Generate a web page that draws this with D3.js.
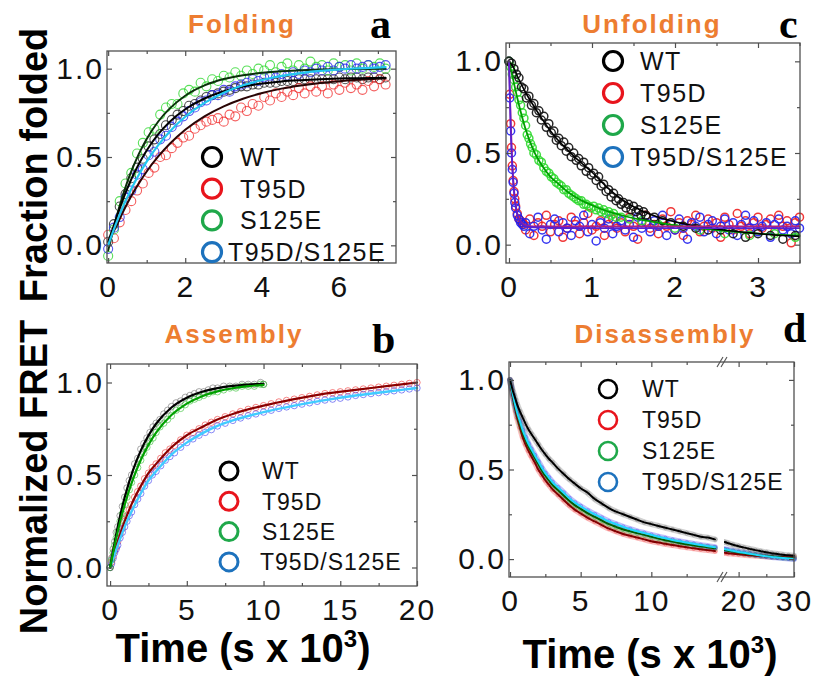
<!DOCTYPE html>
<html><head><meta charset="utf-8">
<script src="https://cdn.jsdelivr.net/npm/d3@7"></script>
<style>body{margin:0;background:#fff}svg{display:block}</style>
</head><body>
<script>
// ---------------- DATA ----------------
const seriesNames = ['WT','T95D','S125E','T95D/S125E'];

// Panel a: Folding (time, s x 10^3)
const foldTime = [0,0.15,0.3,0.45,0.6,0.75,0.9,1.05,1.2,1.35,1.5,1.65,1.8,1.95,2.1,2.25,2.4,2.55,2.7,2.85,3.0,3.15,3.3,3.45,3.6,3.75,3.9,4.05,4.2,4.35,4.5,4.65,4.8,4.95,5.1,5.25,5.4,5.55,5.7,5.85,6.0,6.15,6.3,6.45,6.6,6.75,6.9,7.05,7.2];
const foldWT = [0.02,0.12,0.22,0.29,0.38,0.44,0.49,0.56,0.60,0.63,0.68,0.71,0.74,0.76,0.79,0.80,0.82,0.84,0.85,0.86,0.87,0.88,0.89,0.90,0.90,0.91,0.91,0.92,0.92,0.92,0.93,0.93,0.93,0.94,0.94,0.94,0.94,0.94,0.94,0.94,0.95,0.94,0.95,0.95,0.94,0.95,0.95,0.94,0.95];
const foldT95D = [0.06,0.04,0.13,0.20,0.25,0.31,0.35,0.41,0.44,0.50,0.51,0.55,0.58,0.61,0.62,0.66,0.68,0.70,0.71,0.72,0.70,0.74,0.73,0.78,0.76,0.80,0.79,0.84,0.82,0.86,0.84,0.87,0.85,0.89,0.86,0.90,0.87,0.90,0.86,0.91,0.88,0.92,0.89,0.91,0.88,0.93,0.90,0.94,0.91];
const foldS125E = [-0.06,0.09,0.25,0.35,0.41,0.52,0.58,0.64,0.66,0.74,0.78,0.80,0.80,0.86,0.88,0.87,0.92,0.90,0.94,0.93,0.96,0.95,0.98,0.96,0.99,0.97,1.00,0.99,1.02,0.98,1.01,1.03,0.99,1.02,1.00,1.04,1.01,1.02,0.99,1.03,1.01,1.02,0.99,1.03,1.00,1.02,1.01,1.03,1.00];
const foldBoth = [-0.02,0.10,0.16,0.27,0.31,0.40,0.43,0.51,0.53,0.60,0.62,0.67,0.70,0.73,0.76,0.78,0.81,0.82,0.85,0.85,0.88,0.87,0.90,0.91,0.92,0.94,0.93,0.95,0.96,0.95,0.97,0.96,0.98,0.97,0.99,0.98,1.00,0.99,1.01,0.99,1.01,1.00,1.02,1.00,1.01,1.02,1.00,1.01,1.02];
const foldFitTime = [0,0.2,0.4,0.6,0.8,1.0,1.3,1.6,2.0,2.5,3.0,3.5,4.0,4.5,5.0,5.5,6.0,6.5,7.2];
const foldFitWT = [0.02,0.146,0.269,0.374,0.462,0.537,0.629,0.700,0.770,0.831,0.872,0.899,0.916,0.928,0.935,0.940,0.944,0.946,0.948];
const foldFitT95D = [0.02,0.104,0.196,0.279,0.352,0.418,0.503,0.575,0.654,0.730,0.787,0.830,0.862,0.887,0.905,0.919,0.929,0.937,0.944];
const foldFitS125E = [-0.03,0.148,0.296,0.418,0.519,0.602,0.701,0.775,0.847,0.905,0.941,0.963,0.977,0.986,0.991,0.995,0.997,0.998,0.999];
const foldFitBoth = [0,0.120,0.226,0.319,0.401,0.474,0.567,0.645,0.728,0.806,0.864,0.906,0.936,0.959,0.975,0.987,0.996,1.002,1.009];

// Panel b: Assembly
const asmTimeFast = [0,0.1,0.2,0.3,0.4,0.5,0.65,0.8,0.95,1.1,1.25,1.4,1.6,1.8,2.0,2.2,2.4,2.6,2.8,3.0,3.25,3.5,3.75,4.0,4.3,4.6,4.9,5.2,5.5,5.8,6.1,6.4,6.7,7.0,7.4,7.8,8.2,8.6,9.0,9.4,9.8,10.0];
const asmWT = [0.00,0.05,0.10,0.14,0.19,0.22,0.28,0.33,0.38,0.43,0.47,0.50,0.56,0.59,0.64,0.67,0.70,0.73,0.76,0.78,0.80,0.83,0.85,0.87,0.89,0.90,0.92,0.93,0.94,0.95,0.95,0.96,0.97,0.97,0.98,0.98,0.98,0.99,0.99,0.99,1.00,0.99];
const asmS125E = [0.00,0.04,0.08,0.12,0.16,0.19,0.25,0.29,0.34,0.38,0.42,0.46,0.50,0.54,0.58,0.62,0.65,0.68,0.70,0.73,0.76,0.78,0.80,0.82,0.85,0.86,0.88,0.90,0.91,0.92,0.93,0.94,0.95,0.95,0.96,0.97,0.97,0.98,0.98,0.98,0.99,0.99];
const asmTimeSlow = [0,0.1,0.2,0.3,0.4,0.5,0.65,0.8,0.95,1.1,1.25,1.4,1.6,1.8,2.0,2.25,2.5,2.75,3.0,3.3,3.6,3.9,4.2,4.6,5.0,5.4,5.8,6.2,6.6,7.0,7.5,8.0,8.5,9.0,9.5,10,10.5,11,11.5,12,12.5,13,13.5,14,14.5,15,15.5,16,16.5,17,17.5,18,18.5,19,19.5,20];
const asmT95D = [0.00,0.03,0.06,0.09,0.11,0.14,0.18,0.21,0.25,0.28,0.31,0.34,0.38,0.41,0.44,0.48,0.51,0.54,0.56,0.59,0.62,0.64,0.66,0.69,0.715,0.73,0.75,0.77,0.785,0.80,0.815,0.83,0.843,0.855,0.865,0.875,0.885,0.895,0.903,0.91,0.918,0.925,0.933,0.94,0.945,0.95,0.955,0.96,0.965,0.97,0.975,0.98,0.985,0.99,0.995,1.0];
const asmBoth = [0.00,0.02,0.05,0.08,0.10,0.12,0.16,0.19,0.22,0.25,0.28,0.30,0.34,0.37,0.40,0.44,0.47,0.50,0.52,0.55,0.58,0.60,0.62,0.65,0.675,0.695,0.715,0.73,0.745,0.765,0.78,0.795,0.808,0.82,0.83,0.84,0.85,0.86,0.868,0.875,0.883,0.89,0.898,0.905,0.91,0.915,0.922,0.93,0.935,0.94,0.945,0.95,0.955,0.96,0.965,0.97];
const asmFitTimeFast = [0,0.5,1,1.5,2,2.5,3,4,5,6,7,8,9,10];
const asmFitWT = [0,0.221,0.393,0.528,0.632,0.713,0.777,0.865,0.918,0.950,0.970,0.982,0.989,0.993];
const asmFitS125E = [0,0.195,0.353,0.479,0.581,0.663,0.729,0.824,0.886,0.926,0.952,0.969,0.980,0.987];
const asmFitTimeSlow = [0,0.5,1,1.5,2,2.5,3,4,5,6,7,8,10,12,14,16,18,20];
const asmFitT95D = [0,0.14,0.26,0.36,0.44,0.51,0.56,0.65,0.715,0.76,0.80,0.83,0.875,0.91,0.94,0.96,0.98,1.0];
const asmFitBoth = [0,0.12,0.23,0.32,0.40,0.47,0.52,0.61,0.675,0.725,0.765,0.795,0.84,0.875,0.905,0.93,0.95,0.97];

// Panel c: Unfolding
const unfTimeWT = [0,0.03,0.06,0.09,0.12,0.15,0.18,0.21,0.24,0.27,0.30,0.33,0.36,0.39,0.42,0.45,0.48,0.51,0.54,0.57,0.60,0.63,0.66,0.69,0.72,0.75,0.78,0.81,0.84,0.87,0.90,0.93,0.96,0.99,1.02,1.05,1.08,1.11,1.14,1.17,1.20,1.23,1.26,1.29,1.32,1.35,1.38,1.41,1.44,1.47,1.50,1.53,1.56,1.59,1.62,1.65,1.75,1.85,1.95,2.1,2.25,2.4,2.55,2.7,2.85,3.0,3.15,3.3,3.45];
const unfWT = [1.00,0.99,0.96,0.93,0.91,0.86,0.85,0.80,0.81,0.76,0.77,0.72,0.73,0.68,0.70,0.64,0.66,0.61,0.62,0.57,0.58,0.54,0.56,0.51,0.53,0.48,0.50,0.46,0.47,0.43,0.45,0.40,0.42,0.38,0.39,0.35,0.37,0.32,0.33,0.29,0.30,0.26,0.28,0.24,0.25,0.22,0.23,0.20,0.22,0.19,0.21,0.18,0.19,0.16,0.18,0.16,0.15,0.13,0.12,0.10,0.09,0.08,0.08,0.06,0.04,0.06,0.05,0.03,0.05];
const unfTimeG = [0,0.02,0.04,0.06,0.08,0.10,0.12,0.14,0.16,0.18,0.20,0.22,0.24,0.26,0.28,0.30,0.33,0.36,0.39,0.42,0.45,0.48,0.51,0.54,0.57,0.60,0.63,0.66,0.69,0.72,0.75,0.78,0.81,0.84,0.87,0.90,0.93,0.96,0.99,1.02,1.05,1.08,1.11,1.14,1.17,1.20,1.23,1.26,1.29,1.35,1.45,1.6,1.8,2.0,2.3,2.6,2.9,3.2,3.45];
const unfS125E = [1.00,0.97,0.93,0.90,0.86,0.83,0.79,0.76,0.72,0.69,0.65,0.60,0.58,0.55,0.53,0.50,0.49,0.46,0.45,0.42,0.40,0.39,0.37,0.36,0.34,0.33,0.32,0.30,0.30,0.28,0.27,0.26,0.25,0.24,0.24,0.22,0.22,0.21,0.20,0.21,0.19,0.20,0.18,0.19,0.17,0.18,0.16,0.17,0.15,0.15,0.14,0.13,0.11,0.09,0.08,0.06,0.05,0.06,0.04];
const unfTimeRB = [0,0.01,0.02,0.03,0.04,0.05,0.06,0.07,0.08,0.1,0.12,0.14,0.16,0.18,0.20,0.25,0.30,0.35,0.40,0.45,0.50,0.55,0.60,0.65,0.70,0.75,0.80,0.85,0.90,0.95,1.00,1.05,1.10,1.15,1.20,1.25,1.30,1.35,1.40,1.45,1.50,1.55,1.60,1.65,1.70,1.75,1.80,1.85,1.90,1.95,2.00,2.05,2.10,2.15,2.20,2.25,2.30,2.35,2.40,2.45,2.50,2.55,2.60,2.65,2.70,2.75,2.80,2.85,2.90,2.95,3.00,3.05,3.10,3.15,3.20,3.25,3.30,3.35,3.40,3.45,3.50];
const unfT95D = [1.00,0.82,0.66,0.53,0.43,0.35,0.29,0.25,0.21,0.17,0.14,0.13,0.12,0.11,0.08,0.14,0.05,0.12,0.10,0.16,0.07,0.11,0.13,0.04,0.09,0.15,0.11,0.06,0.12,0.17,0.08,0.10,0.13,0.05,0.11,0.14,0.09,0.12,0.07,0.15,0.10,0.03,0.12,0.16,0.09,0.11,0.06,0.14,0.10,0.18,0.08,0.12,0.05,0.13,0.11,0.16,0.07,0.10,0.14,0.09,0.12,0.04,0.15,0.11,0.08,0.17,0.10,0.13,0.06,0.12,0.15,0.09,0.11,0.14,0.07,0.16,0.10,0.13,0.01,0.12,0.15];
const unfBoth = [1.00,0.80,0.62,0.50,0.41,0.34,0.28,0.23,0.20,0.16,0.14,0.12,0.11,0.10,0.12,0.06,0.10,0.15,0.08,0.03,0.11,0.14,0.07,0.12,0.09,0.05,0.13,0.10,0.16,0.07,0.11,0.02,0.12,0.09,0.14,0.06,0.10,0.13,0.08,0.11,0.04,0.15,0.09,0.12,0.07,0.13,0.10,0.16,0.05,0.11,0.08,0.14,0.09,0.03,0.12,0.10,0.15,0.07,0.11,0.13,0.06,0.10,0.14,0.08,0.12,0.05,0.11,0.16,0.09,0.13,0.07,0.10,0.12,0.04,0.11,0.14,0.08,0.10,0.06,0.13,0.09];
const unfFitTime = [0,0.05,0.1,0.2,0.3,0.4,0.5,0.6,0.7,0.8,0.9,1.0,1.2,1.4,1.6,1.8,2.0,2.5,3.0,3.5];
const unfFitWT = [1.0,0.97,0.92,0.83,0.755,0.685,0.62,0.565,0.52,0.475,0.435,0.395,0.305,0.235,0.185,0.15,0.125,0.085,0.06,0.045];
const unfFitS125E = [1.0,0.90,0.80,0.63,0.51,0.43,0.37,0.33,0.29,0.26,0.235,0.215,0.18,0.155,0.135,0.12,0.105,0.08,0.06,0.05];
const unfFitFastTime = [0,0.02,0.04,0.06,0.08,0.1,0.15,0.2,0.3,1,2,3,3.5];
const unfFitT95D = [1.0,0.68,0.44,0.30,0.22,0.17,0.12,0.105,0.10,0.10,0.10,0.10,0.10];
const unfFitBoth = [1.0,0.64,0.42,0.29,0.21,0.16,0.115,0.10,0.095,0.09,0.09,0.09,0.09];

// Panel d: Disassembly (broken time axis)
const disTime1 = [0,0.1,0.2,0.3,0.4,0.5,0.7,0.9,1.1,1.3,1.5,1.75,2.0,2.25,2.5,2.75,3.0,3.4,3.8,4.2,4.6,5.0,5.5,6.0,6.5,7.0,7.5,8.0,8.5,9.0,9.5,10,10.5,11,11.5,12,12.5,13,13.5,14,14.5];
const disWT1 = [1.00,0.97,0.94,0.915,0.89,0.865,0.825,0.79,0.755,0.725,0.70,0.67,0.64,0.61,0.585,0.56,0.54,0.505,0.475,0.445,0.42,0.395,0.37,0.335,0.31,0.285,0.265,0.25,0.235,0.22,0.205,0.195,0.185,0.175,0.165,0.155,0.145,0.135,0.125,0.12,0.11];
const disT95D1 = [1.00,0.95,0.905,0.865,0.825,0.79,0.735,0.68,0.64,0.605,0.575,0.54,0.50,0.47,0.44,0.415,0.39,0.36,0.33,0.30,0.275,0.255,0.23,0.21,0.19,0.17,0.155,0.14,0.13,0.12,0.11,0.10,0.092,0.085,0.078,0.072,0.066,0.06,0.055,0.05,0.045];
const disS125E1 = [1.00,0.955,0.915,0.875,0.84,0.81,0.755,0.705,0.665,0.63,0.60,0.565,0.53,0.495,0.465,0.44,0.415,0.385,0.355,0.325,0.30,0.28,0.255,0.235,0.215,0.195,0.18,0.165,0.155,0.145,0.135,0.125,0.115,0.105,0.098,0.09,0.083,0.077,0.071,0.066,0.06];
const disBoth1 = [1.00,0.96,0.92,0.885,0.85,0.82,0.77,0.72,0.68,0.645,0.615,0.58,0.545,0.51,0.48,0.455,0.43,0.40,0.37,0.34,0.315,0.295,0.27,0.25,0.23,0.21,0.195,0.18,0.167,0.155,0.145,0.135,0.125,0.116,0.107,0.099,0.092,0.085,0.078,0.072,0.066];
const disTime2 = [17.5,18,19,20,21,22,23,24,25,26,27,28,29,30];
const disWT2 = [0.095,0.09,0.08,0.072,0.064,0.057,0.05,0.044,0.038,0.033,0.028,0.024,0.021,0.018];
const disT95D2 = [0.035,0.033,0.03,0.027,0.024,0.021,0.019,0.017,0.015,0.013,0.012,0.011,0.01,0.01];
const disS125E2 = [0.05,0.047,0.042,0.037,0.032,0.028,0.024,0.02,0.017,0.014,0.011,0.008,0.006,0.004];
const disBoth2 = [0.055,0.052,0.046,0.04,0.035,0.03,0.025,0.02,0.016,0.012,0.009,0.006,0.003,0.0];

// Tick values / labels
const yMajorTicks = [0, 0.5, 1.0];
const yMinorTicks = [0.25, 0.75];
const foldXMajor = [0,2,4,6], foldXMinor = [1,3,5,7];
const unfXMajor = [0,1,2,3], unfXMinor = [0.5,1.5,2.5,3.5];
const asmXMajor = [0,5,10,15,20], asmXMinor = [2.5,7.5,12.5,17.5];
const disXMajor1 = [0,5,10], disXMinor1 = [2.5,7.5,12.5];
const disXMajor2 = [20,30], disXMinor2 = [25];

// ---------------- DRAWING ----------------
const SANS = "'Liberation Sans', Arial, Helvetica, sans-serif";
const SERIF = "'Liberation Serif', 'Times New Roman', serif";
const legendColors = ['#000000','#e8141c','#1fa84a','#1d72bd'];
const svg = d3.select('body').append('svg').attr('width',814).attr('height',676);

function yScale(p){ return d3.scaleLinear().domain([-0.1,1.1]).range([p.B,p.T]); }

function axesFor(p, x, y, xMaj, xMin){
  const g = svg.append('g').attr('color','#505050');
  const addAxis = (axis, tr) => {
    const a = g.append('g').attr('transform',tr).call(axis);
    a.select('.domain').remove();
    a.attr('font-size',null).attr('font-family',null);
    a.selectAll('line').attr('stroke-width',1.2);
    return a;
  };
  const bMaj = addAxis(d3.axisBottom(x).tickValues(xMaj).tickSize(-5).tickSizeOuter(0).tickFormat(d=>String(d)), `translate(0,${p.B})`);
  bMaj.selectAll('text').attr('y',34).attr('dy',null).attr('fill','#111')
    .style('font-family',SANS).style('font-size','30px').style('letter-spacing','2px');
  addAxis(d3.axisBottom(x).tickValues(xMin).tickSize(-3).tickSizeOuter(0).tickFormat(''), `translate(0,${p.B})`);
  addAxis(d3.axisTop(x).tickValues(xMaj).tickSize(-5).tickSizeOuter(0).tickFormat(''), `translate(0,${p.T})`);
  addAxis(d3.axisTop(x).tickValues(xMin).tickSize(-3).tickSizeOuter(0).tickFormat(''), `translate(0,${p.T})`);
  return g;
}
function yAxesFor(p, y){
  const g = svg.append('g').attr('color','#505050');
  const add = (axis,tr)=>{ const a=g.append('g').attr('transform',tr).call(axis); a.select('.domain').remove(); a.attr('font-size',null).attr('font-family',null); a.selectAll('line').attr('stroke-width',1.2); return a; };
  const l = add(d3.axisLeft(y).tickValues(yMajorTicks).tickSize(-5).tickSizeOuter(0).tickFormat(d3.format('.1f')), `translate(${p.L},0)`);
  l.selectAll('text').attr('x',-3).attr('dy','0.32em').attr('fill','#111')
    .style('font-family',SANS).style('font-size','30px').style('letter-spacing','2px');
  add(d3.axisLeft(y).tickValues(yMinorTicks).tickSize(-3).tickSizeOuter(0).tickFormat(''), `translate(${p.L},0)`);
  add(d3.axisRight(y).tickValues(yMajorTicks).tickSize(-5).tickSizeOuter(0).tickFormat(''), `translate(${p.R},0)`);
  add(d3.axisRight(y).tickValues(yMinorTicks).tickSize(-3).tickSizeOuter(0).tickFormat(''), `translate(${p.R},0)`);
}
function frame(p){
  svg.append('rect').attr('x',p.L).attr('y',p.T).attr('width',p.R-p.L).attr('height',p.B-p.T)
    .attr('fill','none').attr('stroke','#505050').attr('stroke-width',1.3);
}
function points(x, y, ts, vs, color, r, sw, op){
  svg.append('g').selectAll('circle').data(ts.map((t,i)=>[t,vs[i]])).join('circle')
    .attr('cx',d=>x(d[0])).attr('cy',d=>y(d[1])).attr('r',r)
    .attr('fill','none').attr('stroke',color).attr('stroke-width',sw).attr('stroke-opacity',op);
}
function line(x, y, ts, vs, color, w, op=1){
  const gen = d3.line().x(d=>x(d[0])).y(d=>y(d[1])).curve(d3.curveMonotoneX);
  svg.append('path').attr('d',gen(ts.map((t,i)=>[t,vs[i]]))).attr('fill','none')
    .attr('stroke',color).attr('stroke-width',w).attr('stroke-opacity',op).attr('stroke-linecap','round');
}
function legend(cfg){
  const g = svg.append('g');
  seriesNames.forEach((n,i)=>{
    const cy = cfg.cy0 + i*cfg.dy;
    g.append('circle').attr('cx',cfg.cx).attr('cy',cy).attr('r',cfg.r).attr('fill','none')
      .attr('stroke',legendColors[i]).attr('stroke-width',cfg.sw);
    g.append('text').attr('x', i===3 ? cfg.tx3 : cfg.tx).attr('y', cy + cfg.fs*0.36).text(n)
      .attr('fill','#111').style('font-family',SANS).style('font-size',cfg.fs+'px').style('letter-spacing',cfg.ls+'px');
  });
}
function title(txt, cx, by){
  svg.append('text').attr('x',cx).attr('y',by).attr('text-anchor','middle').text(txt)
    .attr('fill','#ED7D31').style('font-family',SANS).style('font-weight','bold').style('font-size','26px').style('letter-spacing','2px');
}
function letter(txt, x0, by){
  svg.append('text').attr('x',x0).attr('y',by).text(txt).attr('fill','#000')
    .style('font-family',SERIF).style('font-weight','bold').style('font-size','42px');
}

// ---- Panel a ----
const pa = {L:107,R:396,T:51,B:263};
const xa = d3.scaleLinear().domain([-0.03,7.47]).range([pa.L,pa.R]);
const ya = yScale(pa);
points(xa,ya,foldTime,foldWT,'#222',4.5,1.1,0.8);
points(xa,ya,foldTime,foldT95D,'#f02828',4.5,1.1,0.75);
points(xa,ya,foldTime,foldS125E,'#30d830',4.5,1.1,0.8);
points(xa,ya,foldTime,foldBoth,'#2a2aee',4.5,1.1,0.8);
line(xa,ya,foldFitTime,foldFitT95D,'#2a0505',2);
line(xa,ya,foldFitTime,foldFitS125E,'#0a300a',2);
line(xa,ya,foldFitTime,foldFitWT,'#000',2);
line(xa,ya,foldFitTime,foldFitBoth,'#22c8f0',2.2);
frame(pa); axesFor(pa,xa,ya,foldXMajor,foldXMinor); yAxesFor(pa,ya);
legend({cx:212,cy0:157,dy:31.7,r:9.5,sw:3.2,tx:240,tx3:228,fs:25,ls:1.5});
title('Folding',242,33); letter('a',370,38);

// ---- Panel c ----
const pc = {L:506,R:800,T:43,B:263};
const xc = d3.scaleLinear().domain([-0.036,3.506]).range([pc.L,pc.R]);
const yc = yScale(pc);
points(xc,yc,unfTimeRB,unfT95D,'#ee2020',4,1.5,0.9);
points(xc,yc,unfTimeRB,unfBoth,'#2020ee',4,1.5,0.9);
points(xc,yc,unfTimeG,unfS125E,'#30d830',4,1.5,0.9);
points(xc,yc,unfTimeWT,unfWT,'#111',4,1.5,0.9);
line(xc,yc,unfFitTime,unfFitS125E,'#00a000',1.8);
line(xc,yc,unfFitTime,unfFitWT,'#000',1.6);
line(xc,yc,unfFitFastTime,unfFitT95D,'#b02080',1.8);
line(xc,yc,unfFitFastTime,unfFitBoth,'#5a20d0',1.8);
frame(pc); axesFor(pc,xc,yc,unfXMajor,unfXMinor); yAxesFor(pc,yc);
legend({cx:613,cy0:61,dy:32,r:9.5,sw:3.2,tx:640,tx3:630,fs:25,ls:1.5});
title('Unfolding',652,33); letter('c',779,38);

// ---- Panel b ----
const pb = {L:107,R:417,T:364,B:586};
const xb = d3.scaleLinear().domain([-0.2,20]).range([pb.L,pb.R]);
const yb = yScale(pb);
points(xb,yb,asmTimeSlow,asmT95D,'#ee2222',3.2,1,0.55);
points(xb,yb,asmTimeSlow,asmBoth,'#2a2aee',3.2,1,0.55);
points(xb,yb,asmTimeFast,asmWT,'#555',3.2,1,0.5);
points(xb,yb,asmTimeFast,asmS125E,'#22bb22',3.2,1,0.55);
line(xb,yb,asmFitTimeSlow,asmFitT95D,'#8b0000',2.2);
line(xb,yb,asmFitTimeSlow,asmFitBoth,'#40ccff',2.4);
line(xb,yb,asmFitTimeFast,asmFitWT,'#000',2.2);
line(xb,yb,asmFitTimeFast,asmFitS125E,'#00a000',2.2);
frame(pb); axesFor(pb,xb,yb,asmXMajor,asmXMinor); yAxesFor(pb,yb);
legend({cx:229,cy0:471,dy:30.3,r:9,sw:3,tx:262,tx3:260,fs:23,ls:1});
title('Assembly',234,343); letter('b',372,353);

// ---- Panel d ----
const pd = {L:509,R:794,T:362,B:577};
const breakX = 722;
const xd1 = d3.scaleLinear().domain([-0.07,15]).range([pd.L,breakX]);
const xd2 = d3.scaleLinear().domain([17,30]).range([breakX,pd.R]);
const yd = yScale(pd);
const disSets = [
  [disT95D1,disT95D2,'#ee2020','#800000'],
  [disS125E1,disS125E2,'#22bb44','#006000'],
  [disBoth1,disBoth2,'#2a2aee','#20d8ff'],
  [disWT1,disWT2,'#666','#000']
];
disSets.forEach(s=>{
  line(xd1,yd,disTime1,s[0],s[2],6,0.3);
  line(xd2,yd,disTime2,s[1],s[2],6,0.3);
  points(xd1,yd,disTime1,s[0],s[2],2,0.8,0.45);
  points(xd2,yd,disTime2,s[1],s[2],2,0.8,0.45);
});
disSets.forEach(s=>{
  line(xd1,yd,disTime1,s[0],s[3],2);
  line(xd2,yd,disTime2,s[1],s[3],2);
});
svg.append('rect').attr('x',breakX-2).attr('y',pd.T+2).attr('width',4).attr('height',pd.B-pd.T-4).attr('fill','#fff');
frame(pd);
axesFor(pd,xd1,yd,disXMajor1,disXMinor1);
axesFor(pd,xd2,yd,disXMajor2,disXMinor2);
yAxesFor(pd,yd);
[pd.T,pd.B].forEach(yy=>{
  [-2,2].forEach(off=>{
    svg.append('line').attr('x1',breakX+off-3).attr('y1',yy+5).attr('x2',breakX+off+3).attr('y2',yy-5)
      .attr('stroke','#505050').attr('stroke-width',1.1);
  });
});
legend({cx:608,cy0:389,dy:31,r:9,sw:2.6,tx:642,tx3:642,fs:23,ls:1});
title('Disassembly',665,343); letter('d',783,342);

// ---- Axis titles ----
function ytitle(txt, cy){
  svg.append('text').attr('transform',`translate(47,${cy}) rotate(-90)`).attr('text-anchor','middle').text(txt)
    .attr('fill','#000').style('font-family',SANS).style('font-weight','bold').style('font-size','38px');
}
ytitle('Fraction folded',165);
ytitle('Normalized FRET',477);
function xtitle(cx, by){
  const t = svg.append('text').attr('x',cx).attr('y',by).attr('text-anchor','middle').attr('fill','#000')
    .style('font-family',SANS).style('font-weight','bold').style('font-size','40px');
  t.append('tspan').text('Time (s x 10');
  t.append('tspan').text('3').attr('dy',-15).style('font-size','24px');
  t.append('tspan').text(')').attr('dy',15);
}
xtitle(243,662);
xtitle(650,668);
</script>
</body></html>
